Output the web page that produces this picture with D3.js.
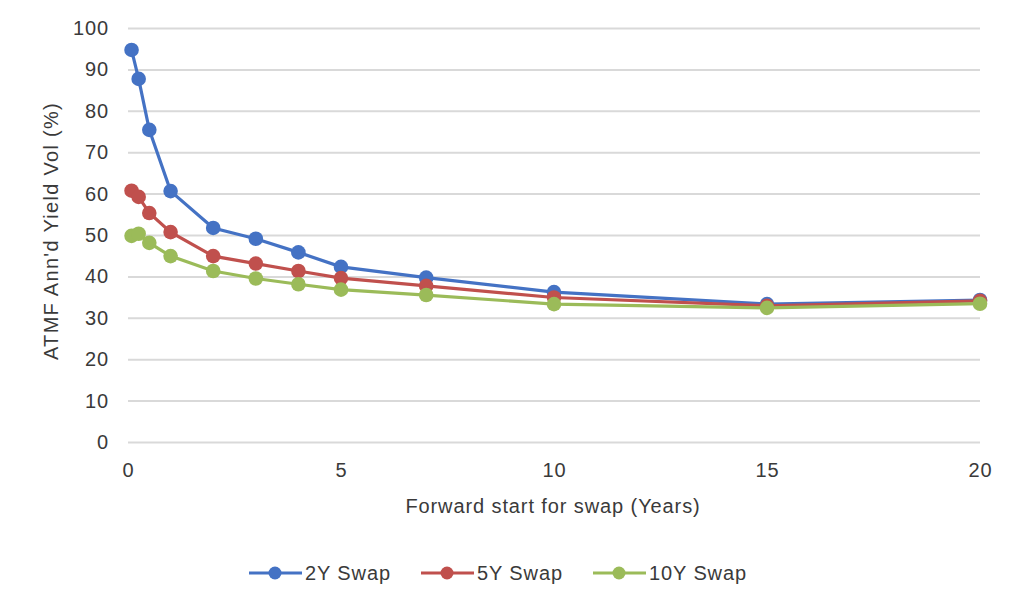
<!DOCTYPE html>
<html><head><meta charset="utf-8">
<script src="https://cdn.jsdelivr.net/npm/d3@7"></script>
<style>body{margin:0;background:#fff;}svg{display:block;font-family:"Liberation Sans",Arial,sans-serif;}</style>
</head><body>
<svg id="c" width="1024" height="612"></svg>
<script>
const xValues = [1/12, 0.25, 0.5, 1, 2, 3, 4, 5, 7, 10, 15, 20];
const swap2Y = [94.7, 87.7, 75.4, 60.6, 51.7, 49.1, 45.8, 42.3, 39.7, 36.2, 33.3, 34.3];
const swap5Y = [60.7, 59.2, 55.3, 50.7, 44.9, 43.1, 41.3, 39.6, 37.7, 34.9, 32.9, 34.1];
const swap10Y = [49.8, 50.3, 48.1, 44.9, 41.3, 39.5, 38.1, 36.8, 35.5, 33.3, 32.4, 33.4];
const seriesNames = ["2Y Swap", "5Y Swap", "10Y Swap"];
const seriesColors = ["#4472C4", "#C0504D", "#9BBB59"];
const xTicks = [0, 5, 10, 15, 20];
const yTicks = [0,10,20,30,40,50,60,70,80,90,100];

const svg = d3.select("#c");
const x = d3.scaleLinear().domain([0,20]).range([128,980]);
const y = d3.scaleLinear().domain([0,100]).range([442,28]);
const FS = 20, LS = "0.9px", TC = "#3a3a3a";

const gy = svg.append("g").attr("transform","translate(128,0)")
  .call(d3.axisLeft(y).tickValues(yTicks).tickSize(-(980-128)).tickFormat(d3.format("d")));
gy.select(".domain").remove();
gy.selectAll(".tick line").attr("stroke","#d9d9d9").attr("stroke-width",2);
gy.selectAll(".tick text").attr("x",-19).attr("font-size",FS).attr("letter-spacing",LS)
  .attr("font-family","Liberation Sans, Arial, sans-serif").attr("fill",TC);

const gx = svg.append("g").attr("transform","translate(0,442)")
  .call(d3.axisBottom(x).tickValues(xTicks).tickSize(0).tickFormat(d3.format("d")));
gx.select(".domain").remove();
gx.selectAll(".tick text").attr("dy",0).attr("y",35).attr("font-size",FS).attr("letter-spacing",LS)
  .attr("font-family","Liberation Sans, Arial, sans-serif").attr("fill",TC);

svg.append("text").attr("x",553).attr("y",513).attr("text-anchor","middle")
  .attr("font-size",FS).attr("letter-spacing",LS).attr("fill",TC).text("Forward start for swap (Years)");
svg.append("text").attr("transform","translate(58,231) rotate(-90)").attr("text-anchor","middle")
  .attr("font-size",FS).attr("letter-spacing","1.3px").attr("fill",TC).text("ATMF Ann'd Yield Vol (%)");

const allSeries = [swap2Y, swap5Y, swap10Y];
const line = d3.line().x(d=>x(d[0])).y(d=>y(d[1]));
allSeries.forEach((vals,i)=>{
  const pts = xValues.map((xv,j)=>[xv, vals[j]]);
  const g = svg.append("g");
  g.append("path").datum(pts).attr("d",line).attr("fill","none")
    .attr("stroke",seriesColors[i]).attr("stroke-width",3.2);
  g.selectAll("circle").data(pts).enter().append("circle")
    .attr("cx",d=>x(d[0])).attr("cy",d=>y(d[1])).attr("r",7.3)
    .attr("fill",seriesColors[i]);
});

const legX = [249, 421, 593];
seriesNames.forEach((n,i)=>{
  const g = svg.append("g").attr("transform",`translate(${legX[i]},573)`);
  g.append("line").attr("x1",0).attr("x2",53).attr("stroke",seriesColors[i]).attr("stroke-width",3.2);
  g.append("circle").attr("cx",26).attr("r",6.5).attr("fill",seriesColors[i]);
  g.append("text").attr("x",56).attr("y",7).attr("font-size",FS).attr("letter-spacing",LS)
    .attr("fill",TC).text(n);
});
</script>
</body></html>
